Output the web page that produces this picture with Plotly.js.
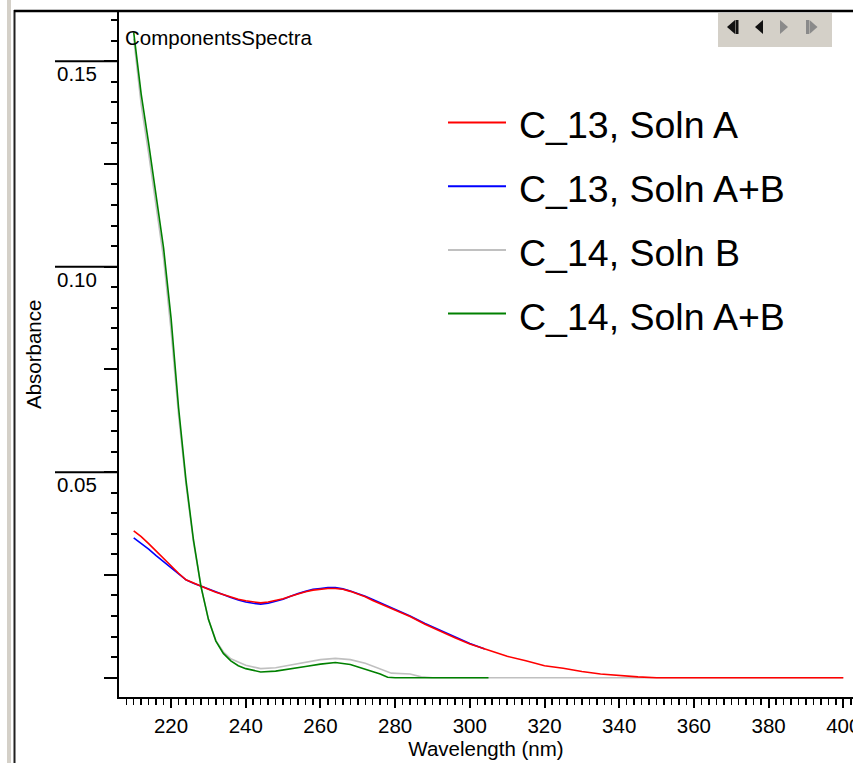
<!DOCTYPE html>
<html>
<head>
<meta charset="utf-8">
<script src="https://cdn.plot.ly/plotly-3.0.1.min.js"></script>
<style>
  html, body { margin: 0; padding: 0; background: #ffffff; }
  #chart { width: 853px; height: 763px; }
</style>
</head>
<body>
<div id="chart"></div>
<script>
// Component spectra: absorbance vs wavelength (nm)

const seriesNames = ["C_13, Soln A", "C_13, Soln A+B", "C_14, Soln B", "C_14, Soln A+B"];
const seriesColors = ["#ff0000", "#0000ff", "#c0c0c0", "#008000"];

// C_13, Soln A
const wlC13A = [210, 212, 214, 216, 218, 220, 222, 224, 226, 228, 230, 232, 234, 236, 238, 240,
  242, 244, 246, 248, 250, 252, 254, 256, 258, 260, 262, 264, 266, 268, 270, 272, 274, 276,
  280, 284, 288, 292, 296, 300, 305, 310, 315, 320, 325, 330, 335, 340, 345, 350, 360, 370, 380, 390, 400];
const absC13A = [0.0357, 0.0343, 0.0326, 0.0308, 0.0290, 0.0271, 0.0254, 0.0238, 0.0230, 0.0222,
  0.0215, 0.0208, 0.0202, 0.0197, 0.0191, 0.0187, 0.0184, 0.0182, 0.0184, 0.0188, 0.0192,
  0.0198, 0.0204, 0.0209, 0.0213, 0.0215, 0.0217, 0.0217, 0.0215, 0.0210, 0.0204, 0.0197,
  0.0188, 0.0180, 0.0165, 0.0149, 0.0130, 0.0113, 0.0097, 0.0082, 0.0067, 0.0052, 0.0041,
  0.0029, 0.0023, 0.0015, 0.0009, 0.0005, 0.0002, 0.0, 0.0, 0.0, 0.0, 0.0, 0.0];

// C_13, Soln A+B
const wlC13AB = [210, 212, 214, 216, 218, 220, 222, 224, 226, 228, 230, 232, 234, 236, 238, 240,
  242, 244, 246, 248, 250, 252, 254, 256, 258, 260, 262, 264, 266, 268, 270, 272, 274, 276,
  280, 284, 288, 292, 296, 300, 304];
const absC13AB = [0.0340, 0.0327, 0.0313, 0.0297, 0.0282, 0.0266, 0.0251, 0.0238, 0.0230, 0.0223,
  0.0215, 0.0208, 0.0201, 0.0195, 0.0189, 0.0184, 0.0181, 0.0179, 0.0181, 0.0186, 0.0191,
  0.0198, 0.0205, 0.0210, 0.0215, 0.0217, 0.0219, 0.0219, 0.0216, 0.0211, 0.0205, 0.0198,
  0.0190, 0.0182, 0.0166, 0.0150, 0.0132, 0.0115, 0.0098, 0.0083, 0.0070];

// C_14, Soln B
const wlC14B = [210, 212, 214, 216, 218, 220, 222, 224, 226, 228, 230, 232, 234, 236, 240, 244,
  248, 252, 256, 260, 264, 268, 272, 276, 279, 284, 287, 290, 300, 320, 340, 360, 380, 400];
const absC14B = [0.1555, 0.1395, 0.1275, 0.1150, 0.1020, 0.0845, 0.0640, 0.0470, 0.0330, 0.0222,
  0.0142, 0.0090, 0.0063, 0.0046, 0.0030, 0.0022, 0.0024, 0.0031, 0.0038, 0.0044, 0.0047,
  0.0044, 0.0035, 0.0021, 0.0011, 0.0009, 0.0002, 0.0, 0.0, 0.0, 0.0, 0.0, 0.0, 0.0];

// C_14, Soln A+B
const wlC14AB = [210, 212, 214, 216, 218, 220, 222, 224, 226, 228, 230, 232, 234, 236, 238, 240,
  244, 248, 252, 256, 260, 264, 268, 272, 276, 278, 280, 290, 300, 305];
const absC14AB = [0.1570, 0.1420, 0.1300, 0.1170, 0.1045, 0.0875, 0.0658, 0.0480, 0.0335, 0.0222,
  0.0142, 0.0089, 0.0059, 0.0041, 0.0029, 0.0022, 0.0014, 0.0016, 0.0021, 0.0027, 0.0033,
  0.0037, 0.0032, 0.0021, 0.0009, 0.0001, 0.0, 0.0, 0.0, 0.0];

// Labelled y ticks (each drawn as a long rule with its label underneath)
const yLabelVals = [0.05, 0.10, 0.15];
const yLabelText = ["0.05", "0.10", "0.15"];

const FONT = "Liberation Sans, Arial, Helvetica, sans-serif";
const TXT = 20.5;

// Plot-area geometry in pixels, used to place frame decorations
const M = { l: 119, r: 0, t: 11, b: 66 };
const FIG_W = 853, FIG_H = 763;
const PW = FIG_W - M.l - M.r, PH = FIG_H - M.t - M.b;
const px = x => (x - M.l) / PW;
const py = y => (FIG_H - M.b - y) / PH;

function trace(x, y, idx) {
  return {
    type: "scatter", mode: "lines", x: x, y: y, name: seriesNames[idx],
    line: { color: seriesColors[idx], width: 1.6 },
    showlegend: false, hoverinfo: "x+y+name"
  };
}

// draw order: grey under blue under red, green on top
const data = [
  trace(wlC14B, absC14B, 2),
  trace(wlC13AB, absC13AB, 1),
  trace(wlC13A, absC13A, 0),
  trace(wlC14AB, absC14AB, 3)
];

const shapes = [];
const annotations = [];

// window frame: light band + dark edge on the left, black rule on top
shapes.push({ type: "rect", xref: "paper", yref: "paper", x0: px(7), x1: px(11), y0: py(0), y1: py(FIG_H),
  fillcolor: "#d4d0c8", line: { width: 0 }, layer: "above" });
shapes.push({ type: "line", xref: "paper", yref: "paper", x0: px(14.5), x1: px(14.5), y0: py(10), y1: py(FIG_H),
  line: { color: "#202020", width: 2 }, layer: "above" });
shapes.push({ type: "line", xref: "paper", yref: "paper", x0: px(14), x1: px(FIG_W), y0: py(11), y1: py(11),
  line: { color: "#000000", width: 2.5 }, layer: "above" });

// navigation button strip (top right)
shapes.push({ type: "rect", xref: "paper", yref: "paper", x0: px(718), x1: px(832), y0: py(47), y1: py(13),
  fillcolor: "#d4d0c8", line: { width: 0 }, layer: "above" });
function tri(x0, x1, yc, h, left) {
  const a = left ? x1 : x0, b = left ? x0 : x1;
  return `M ${px(a)} ${py(yc - h)} L ${px(a)} ${py(yc + h)} L ${px(b)} ${py(yc)} Z`;
}
function bar(x0, x1, yc, h) {
  return `M ${px(x0)} ${py(yc - h)} L ${px(x1)} ${py(yc - h)} L ${px(x1)} ${py(yc + h)} L ${px(x0)} ${py(yc + h)} Z`;
}
const navY = 27, navH = 7;
[
  [tri(727, 735, navY, navH, true), "#111111"],
  [bar(735.5, 738.5, navY, navH), "#111111"],
  [tri(755, 763, navY, navH, true), "#111111"],
  [tri(780, 788, navY, navH, false), "#8a8a8a"],
  [bar(806, 809, navY, navH), "#8a8a8a"],
  [tri(809.5, 817.5, navY, navH, false), "#8a8a8a"]
].forEach(([p, c]) => shapes.push({ type: "path", xref: "paper", yref: "paper", path: p,
  fillcolor: c, line: { width: 0 }, layer: "above" }));

// chart caption inside the plot
annotations.push({ text: "ComponentsSpectra", xref: "paper", yref: "paper", x: px(123), y: py(37.5),
  xanchor: "left", yanchor: "middle", showarrow: false, font: { family: FONT, size: TXT, color: "#000" } });

// long tick rules at the labelled values, label under each rule
yLabelVals.forEach((v, i) => {
  shapes.push({ type: "line", xref: "paper", yref: "y", x0: px(55), x1: px(118), y0: v, y1: v,
    line: { color: "#000", width: 2 }, layer: "above" });
  annotations.push({ text: yLabelText[i], xref: "paper", yref: "y",
    x: px(55), y: v, yshift: -12.5, xanchor: "left", yanchor: "middle", showarrow: false,
    font: { family: FONT, size: TXT, color: "#000" } });
});

// y axis title
annotations.push({ text: "Absorbance", xref: "paper", yref: "paper", x: px(33), y: py(355),
  xanchor: "center", yanchor: "middle", textangle: -90, showarrow: false,
  font: { family: FONT, size: TXT, color: "#000" } });

// legend drawn as line samples + labels
const legY0 = 122.5, legStep = 63.7;
[0, 1, 2, 3].forEach(i => {
  const yy = legY0 + i * legStep;
  shapes.push({ type: "line", xref: "paper", yref: "paper", x0: px(448), x1: px(506), y0: py(yy), y1: py(yy),
    line: { color: seriesColors[i], width: 2 }, layer: "above" });
  annotations.push({ text: seriesNames[i], xref: "paper", yref: "paper", x: px(517), y: py(yy + 3),
    xanchor: "left", yanchor: "middle", showarrow: false, font: { family: FONT, size: 37.5, color: "#000" } });
});

const layout = {
  width: FIG_W, height: FIG_H,
  margin: M,
  paper_bgcolor: "#ffffff", plot_bgcolor: "#ffffff",
  showlegend: false,
  font: { family: FONT, size: TXT, color: "#000" },
  xaxis: {
    range: [206.06, 402.6], showgrid: false, zeroline: false,
    showline: true, linecolor: "#000", linewidth: 2,
    ticks: "outside", tick0: 0, dtick: 20, ticklen: 9, tickwidth: 2, tickcolor: "#000",
    tickfont: { family: FONT, size: TXT, color: "#000" }, ticklabeloverflow: "allow",
    minor: { dtick: 2, ticks: "outside", ticklen: 6, tickwidth: 1.5, tickcolor: "#000", showgrid: false },
    title: { text: "Wavelength (nm)", font: { family: FONT, size: TXT, color: "#000" }, standoff: 4 },
    automargin: false, fixedrange: true
  },
  // medium ticks every 0.025, minor ticks every 0.005
  yaxis: {
    range: [-0.0047, 0.1622], showgrid: false, zeroline: false,
    showline: true, linecolor: "#000", linewidth: 2,
    ticks: "outside", tick0: 0, dtick: 0.025, ticklen: 13, tickwidth: 2, tickcolor: "#000",
    minor: { dtick: 0.005, ticks: "outside", ticklen: 6, tickwidth: 2, tickcolor: "#000", showgrid: false },
    showticklabels: false, automargin: false, fixedrange: true
  },
  shapes: shapes,
  annotations: annotations
};

Plotly.newPlot("chart", data, layout, { displayModeBar: false, staticPlot: true });
</script>
</body>
</html>
